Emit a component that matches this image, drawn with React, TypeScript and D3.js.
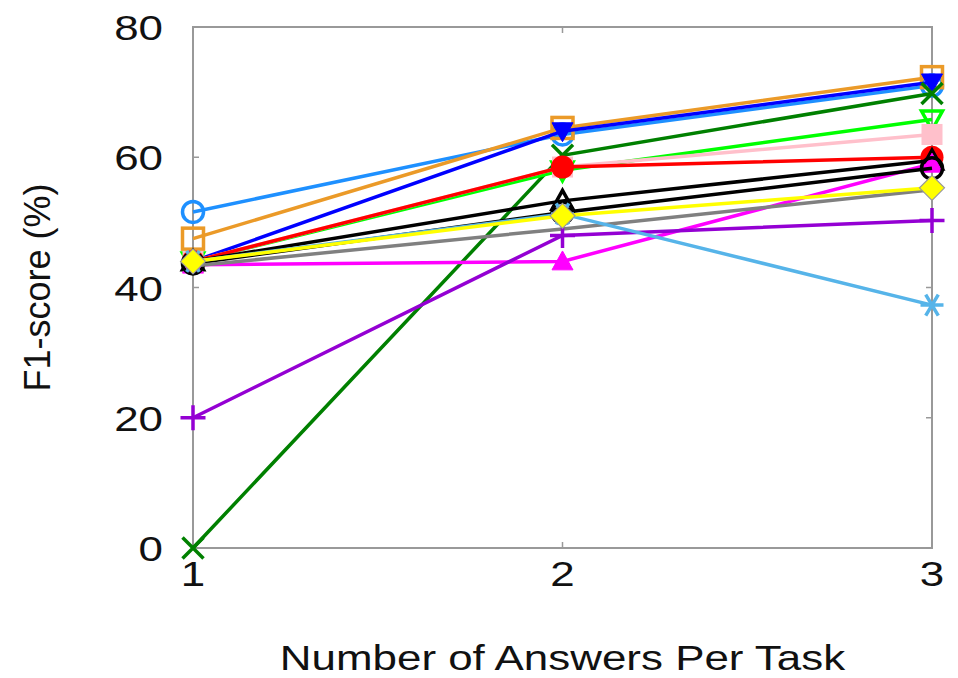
import * as d3 from "d3";
import React from "react";

const answers = [1, 2, 3];
const yTicks = [0, 20, 40, 60, 80];

// one entry per method: values at 1, 2, 3 answers per task
const seriesNames = ["s1", "s2", "s3", "s4", "s5", "s6", "s7", "s8", "s9", "s10", "s11", "s12", "s13", "s14"];
const seriesColors = [
  "#1e90ff", "#eb9a28", "#0000ff", "#008000", "#00ff00", "#ffc0cb", "#ff0000",
  "#000000", "#ff00ff", "#000000", "#808080", "#9400d3", "#56b4e9", "#ffff00",
];
const seriesMarkers = [
  "circleOpen", "squareOpen", "triDownFilled", "cross", "triDownOpen", "squareFilled", "circleFilled",
  "triUpOpen", "triUpFilled", "circleOpen", "none", "plus", "asterisk", "diamondFilled",
];
const seriesValues = [
  [51.6, 63.5, 71.0],
  [47.5, 64.5, 72.3],
  [44.0, 64.0, 71.5],
  [0.0, 60.3, 69.8],
  [44.0, 58.0, 65.8],
  [44.0, 58.5, 63.5],
  [44.0, 58.5, 60.0],
  [44.0, 53.3, 59.5],
  [43.5, 44.0, 59.0],
  [43.7, 51.5, 58.3],
  [43.3, 49.0, 55.0],
  [20.0, 48.0, 50.3],
  [44.0, 51.3, 37.3],
  [44.0, 51.0, 55.3],
];

const W = 958;
const H = 678;
const margin = { top: 27, right: 26, bottom: 130, left: 193 };
const font = "'Liberation Sans', Arial, Helvetica, sans-serif";
const stretch = 1.22; // the original text is wider than it is tall

const x = d3.scaleLinear().domain([1, 3]).range([margin.left, W - margin.right]);
const y = d3.scaleLinear().domain([0, 80]).range([H - margin.bottom, margin.top]);

function Marker({ kind, cx, cy, color }: { kind: string; cx: number; cy: number; color: string }) {
  const r = 10.5;
  const t = `translate(${cx},${cy})`;
  const sw = 3.5;
  switch (kind) {
    case "circleOpen":
      return <circle cx={cx} cy={cy} r={r} fill="none" stroke={color} strokeWidth={sw} />;
    case "circleFilled":
      return <circle cx={cx} cy={cy} r={r + 1} fill={color} />;
    case "squareOpen":
      return <rect x={cx - r} y={cy - r} width={2 * r} height={2 * r} fill="none" stroke={color} strokeWidth={sw} />;
    case "squareFilled":
      return <rect x={cx - r} y={cy - r} width={2 * r} height={2 * r} fill={color} />;
    case "triDownFilled":
    case "triDownOpen":
    case "triUpFilled":
    case "triUpOpen": {
      const up = kind.startsWith("triUp");
      const pts = up
        ? [[0, -r], [r, r * 0.8], [-r, r * 0.8]]
        : [[0, r], [r, -r * 0.8], [-r, -r * 0.8]];
      const filled = kind.endsWith("Filled");
      return (
        <polygon
          transform={t}
          points={pts.map((p) => p.join(",")).join(" ")}
          fill={filled ? color : "none"}
          stroke={color}
          strokeWidth={filled ? 1 : sw}
        />
      );
    }
    case "diamondFilled":
      return (
        <polygon
          transform={t}
          points={`0,${-r - 2} ${r + 2},0 0,${r + 2} ${-r - 2},0`}
          fill={color}
          stroke="#999"
          strokeWidth={1.2}
        />
      );
    case "cross":
      return (
        <path transform={t} d={`M${-r},${-r}L${r},${r}M${-r},${r}L${r},${-r}`} stroke={color} strokeWidth={sw} />
      );
    case "plus":
      return <path transform={t} d={`M${-r - 2},0H${r + 2}M0,${-r - 2}V${r + 2}`} stroke={color} strokeWidth={sw} />;
    case "asterisk":
      return (
        <path
          transform={t}
          d={`M${-r - 1},0H${r + 1}M${-r * 0.6},${-r}L${r * 0.6},${r}M${-r * 0.6},${r}L${r * 0.6},${-r}`}
          stroke={color}
          strokeWidth={sw}
        />
      );
    default:
      return null;
  }
}

function HText({ x, y, anchor, size, children }: { x: number; y: number; anchor: string; size: number; children: React.ReactNode }) {
  return (
    <text
      transform={`translate(${x},${y}) scale(${stretch},1)`}
      textAnchor={anchor}
      fontFamily={font}
      fontSize={size}
      fill="#111"
    >
      {children}
    </text>
  );
}

export default function App() {
  const line = d3
    .line<number>()
    .x((_, i) => x(answers[i]))
    .y((d) => y(d));

  const [x0, x1] = x.range();
  const [y0, y1] = y.range();

  return (
    <svg width={W} height={H} style={{ position: "absolute", left: 0, top: 0 }}>
      <rect width={W} height={H} fill="#fff" />
      {/* frame */}
      <rect x={x0} y={y1} width={x1 - x0} height={y0 - y1} fill="none" stroke="#999" strokeWidth={2} />
      {yTicks.map((t) => (
        <g key={t}>
          <line x1={x0} x2={x0 + 6} y1={y(t)} y2={y(t)} stroke="#999" strokeWidth={1.5} />
          <line x1={x1} x2={x1 - 6} y1={y(t)} y2={y(t)} stroke="#999" strokeWidth={1.5} />
          <HText x={x0 - 30} y={y(t) + 13} anchor="end" size={36}>
            {t}
          </HText>
        </g>
      ))}
      {answers.map((a) => (
        <g key={a}>
          <line x1={x(a)} x2={x(a)} y1={y0} y2={y0 - 6} stroke="#999" strokeWidth={1.5} />
          <line x1={x(a)} x2={x(a)} y1={y1} y2={y1 + 6} stroke="#999" strokeWidth={1.5} />
          <HText x={x(a)} y={y0 + 38} anchor="middle" size={36}>
            {a}
          </HText>
        </g>
      ))}
      <HText x={(x0 + x1) / 2} y={H - 8} anchor="middle" size={36}>
        Number of Answers Per Task
      </HText>
      <text
        transform={`translate(50,${(y0 + y1) / 2}) rotate(-90)`}
        textAnchor="middle"
        fontFamily={font}
        fontSize={36}
        fill="#111"
      >
        F1-score (%)
      </text>
      {seriesNames.map((name, i) => (
        <g key={name}>
          <path d={line(seriesValues[i]) ?? ""} fill="none" stroke={seriesColors[i]} strokeWidth={3.5} />
          {seriesValues[i].map((v, j) => (
            <Marker key={j} kind={seriesMarkers[i]} cx={x(answers[j])} cy={y(v)} color={seriesColors[i]} />
          ))}
        </g>
      ))}
    </svg>
  );
}
